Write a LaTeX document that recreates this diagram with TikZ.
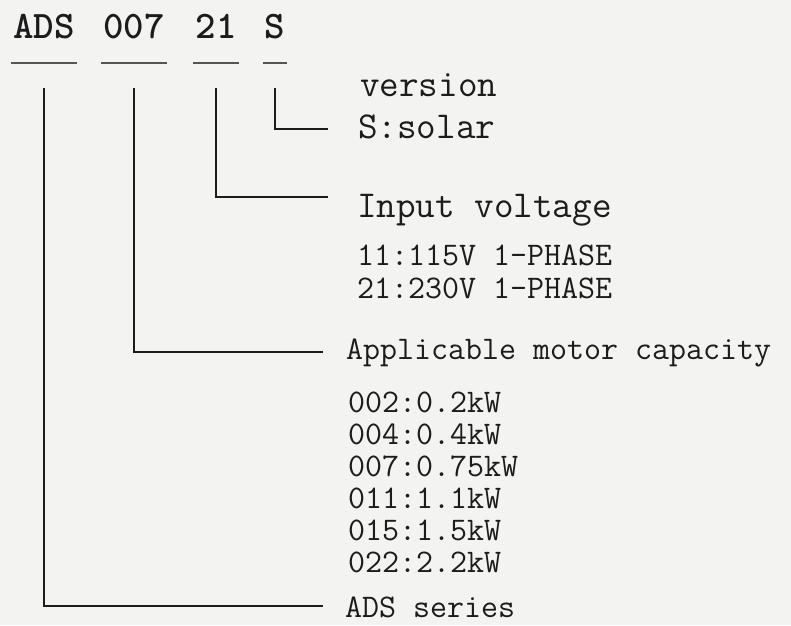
\documentclass[tikz,border=0pt]{standalone}
\usepackage{tikz}
\usetikzlibrary{calc}
\definecolor{ink}{HTML}{1C1C1C}
\definecolor{paper}{HTML}{F3F3F1}

\begin{document}
\begin{tikzpicture}[
  x=1pt, y=-1pt,
  every node/.style={inner sep=0pt, text=ink},
  code/.style={font=\fontsize{39}{39}\selectfont\ttfamily\bfseries, anchor=base},
  head/.style={font=\fontsize{38}{38}\selectfont\ttfamily, anchor=base west},
  item/.style={font=\fontsize{33}{33}\selectfont\ttfamily, anchor=base west},
  uline/.style={line width=1.8pt, draw=ink!75, shorten <=-2pt, shorten >=-2pt},
  lead/.style={line width=1.8pt, draw=ink, shorten >=#1},
  lead/.default=26pt
]
\fill[paper] (0,0) rectangle (791,625);

% model code
\node[code] (ads) at (44,38) {ADS};
\node[code] (size) at (134,38) {007};
\node[code] (volt) at (216,38) {21};
\node[code] (ver) at (275,38) {S};
\coordinate (ulrow) at (0,63);
\coordinate (vtop) at (0,88);
\foreach \part in {ads,size,volt,ver}
  \draw[uline] (\part.west |- ulrow) -- (\part.east |- ulrow);

% meanings
\node[head] (verlbl) at (360,96) {version};
\node[head] (solar) at (358,138) {S:solar};
\node[head] (input) at (357,217) {Input voltage};
\node[item] (ph11) at (357,265) {11:115V 1-PHASE};
\node[item] (ph21) at (357,298) {21:230V 1-PHASE};
\node[item] (motor) at (346,359) {Applicable motor capacity};
\foreach \code/\rating [count=\i] in {002/0.2,004/0.4,007/0.75,011/1.1,015/1.5,022/2.2}
  \node[item] (kw\i) at (348,380+32*\i) {\code:\rating kW};
\node[item] (series) at (345,617) {ADS series};

\draw[lead=30pt] (ver.south |- vtop) |- ([yshift=9pt]solar.base west);
\draw[lead=29pt] (volt.south |- vtop) |- ([yshift=20pt]input.base west);
\draw[lead=23pt] (size.south |- vtop) |- ([yshift=7pt]motor.base west);
\draw[lead=22pt] (ads.south |- vtop) |- ([yshift=11pt]series.base west);
\end{tikzpicture}
\end{document}
